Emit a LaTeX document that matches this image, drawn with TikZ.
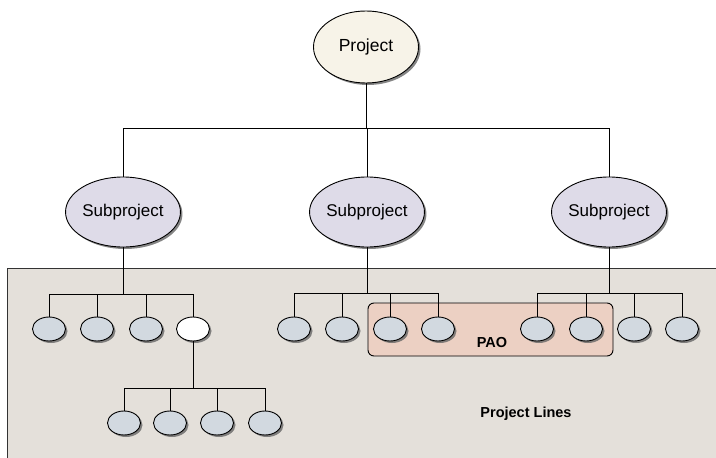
\documentclass[tikz,border=0pt]{standalone}
\usepackage{fontspec}
\setmainfont{Liberation Sans}
\usepackage{tikz}
\usetikzlibrary{positioning}
\usetikzlibrary{shapes.geometric,shadows}

\definecolor{panelbg}{RGB}{228,224,218}
\definecolor{projfill}{RGB}{247,243,232}
\definecolor{subfill}{RGB}{222,219,232}
\definecolor{leaffill}{RGB}{210,217,224}
\definecolor{paofill}{RGB}{236,208,195}

\tikzset{
  shad/.style={drop shadow={shadow xshift=2pt, shadow yshift=-2pt, fill=black!60, opacity=0.8}},
  proj/.style={ellipse, draw, line width=0.9pt, fill=projfill, shad, inner sep=0pt,
    minimum width=105pt, minimum height=72pt, font=\fontsize{17.5}{20}\selectfont},
  sub/.style={ellipse, draw, line width=0.9pt, fill=subfill, shad, inner sep=0pt,
    minimum width=104pt, minimum height=70pt, font=\fontsize{17}{20}\selectfont},
  leaf/.style={ellipse, draw, line width=0.9pt, fill=leaffill, shad, inner sep=0pt,
    minimum width=33pt, minimum height=24pt},
  leafw/.style={leaf, fill=white},
  paobox/.style={draw, line width=0.9pt, fill=paofill, rounded corners=6pt,
    minimum width=245pt, minimum height=53pt},
  lbl/.style={font=\bfseries\fontsize{14.5}{17}\selectfont}
}

\begin{document}
\begin{tikzpicture}[x=1pt,y=-1pt,line width=0.8pt]
            \useasboundingbox (0,0) rectangle (716,458);
            \clip (0,0) rectangle (716,458);
            \draw[fill=panelbg, draw=black!80] (7,268) rectangle (740,480);

            \node[paobox] (pao) at (490.5,329.5) {};
            \node[lbl] (paotxt) at (492,343) {PAO};
            \node[lbl] (lines) at (526,414) {Project Lines};

            \node[proj] (pr) at (366,47) {Project};
            \node[sub] (s1) at (123,212) {Subproject};
            \node[sub] (s2) at (367,212) {Subproject};
            \node[sub] (s3) at (609,212) {Subproject};

            \foreach \x [count=\i] in {49,97,146}
              \node[leaf] (l\i) at (\x,329) {};
            \node[leafw] (l4) at (193,329) {};
            \foreach \x [count=\i] in {294,342,390,438}
              \node[leaf] (m\i) at (\x,329) {};
            \foreach \x [count=\i] in {537,586,634,682}
              \node[leaf] (r\i) at (\x,329) {};
            \foreach \x [count=\i] in {124,170,217,265}
              \node[leaf] (b\i) at (\x,423) {};

            \foreach \s in {s1,s2,s3}
              \draw (pr.south) -- (pr.south |- 0,128) -| (\s.north);
            \foreach \i in {1,...,4} {
              \draw (s1.south) -- (s1.south |- 0,294) -| (l\i.north);
              \draw (s2.south) -- (s2.south |- 0,293) -| (m\i.north);
              \draw (s3.south) -- (s3.south |- 0,293) -| (r\i.north);
              \draw (l4.south) -- (l4.south |- 0,388) -| (b\i.north);
            }
        \end{tikzpicture}
\end{document}
